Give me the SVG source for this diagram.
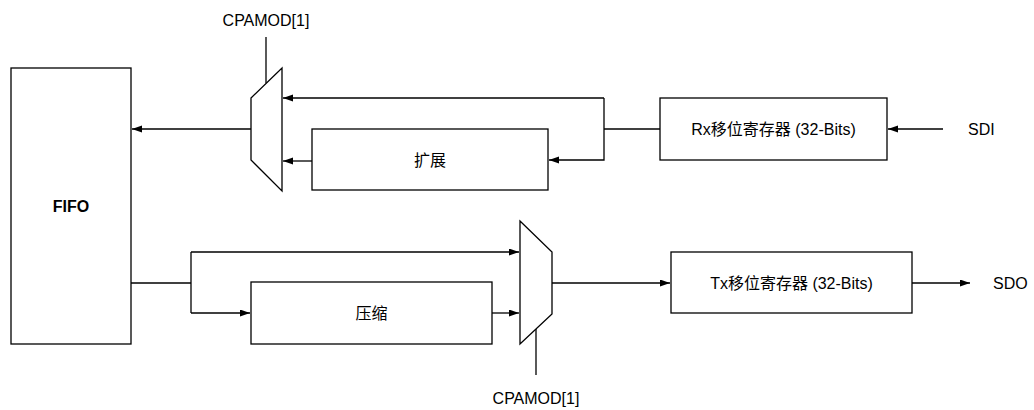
<svg xmlns="http://www.w3.org/2000/svg" width="1034" height="410" viewBox="0 0 1034 410">
<style>
.box{fill:#fff;stroke:#000;stroke-width:1.3}
.ln{fill:none;stroke:#000;stroke-width:1.3}
.t{font-family:"Liberation Sans","Noto Sans CJK SC",sans-serif;font-size:16px;fill:#000}
.c{text-anchor:middle}
.b{font-weight:bold}
</style>
<defs>
<marker id="arr" markerUnits="userSpaceOnUse" markerWidth="11" markerHeight="8" refX="10" refY="3.5" orient="auto">
<path d="M0,0 L10,3.5 L0,7 z" fill="#000"/>
</marker>
</defs>
<rect width="1034" height="410" fill="#fff"/>
<g id="connectors">
<path class="ln" d="M251,129 H132" marker-end="url(#arr)"/>
<path class="ln" d="M660,129 H604"/>
<path class="ln" d="M604,98 V160 H549" marker-end="url(#arr)"/>
<path class="ln" d="M604,98 H283" marker-end="url(#arr)"/>
<path class="ln" d="M312,161 H283" marker-end="url(#arr)"/>
<path class="ln" d="M943,129 H888" marker-end="url(#arr)"/>
<path class="ln" d="M266,37 V83"/>
<path class="ln" d="M131,283 H191"/>
<path class="ln" d="M191,252 V313"/>
<path class="ln" d="M191,252 H519" marker-end="url(#arr)"/>
<path class="ln" d="M191,313 H250" marker-end="url(#arr)"/>
<path class="ln" d="M492,313 H519" marker-end="url(#arr)"/>
<path class="ln" d="M552,283 H670" marker-end="url(#arr)"/>
<path class="ln" d="M912,283 H970" marker-end="url(#arr)"/>
<path class="ln" d="M536,329 V375"/>
</g>
<g id="fifo">
<rect class="box" x="11" y="68" width="120" height="276"/>
<text class="t c b" x="71" y="212">FIFO</text>
</g>
<g id="mux-rx">
<polygon class="box" points="251,98 282,68 282,191 251,160"/>
<text class="t c" x="266" y="26">CPAMOD[1]</text>
</g>
<g id="expand">
<rect class="box" x="312" y="129" width="236" height="61"/>
<text class="t c" x="430" y="166">扩展</text>
</g>
<g id="rx-shift">
<rect class="box" x="660" y="98" width="227" height="62"/>
<text class="t c" x="773.5" y="135">Rx移位寄存器 (32-Bits)</text>
</g>
<g id="sdi">
<text class="t" x="968" y="135">SDI</text>
</g>
<g id="compress">
<rect class="box" x="251" y="282" width="241" height="62"/>
<text class="t c" x="371.5" y="319">压缩</text>
</g>
<g id="mux-tx">
<polygon class="box" points="520,221 552,252 552,314 520,344"/>
<text class="t c" x="536" y="404">CPAMOD[1]</text>
</g>
<g id="tx-shift">
<rect class="box" x="671" y="252" width="241" height="61"/>
<text class="t c" x="791.5" y="289">Tx移位寄存器 (32-Bits)</text>
</g>
<g id="sdo">
<text class="t" x="993" y="289">SDO</text>
</g>
</svg>
